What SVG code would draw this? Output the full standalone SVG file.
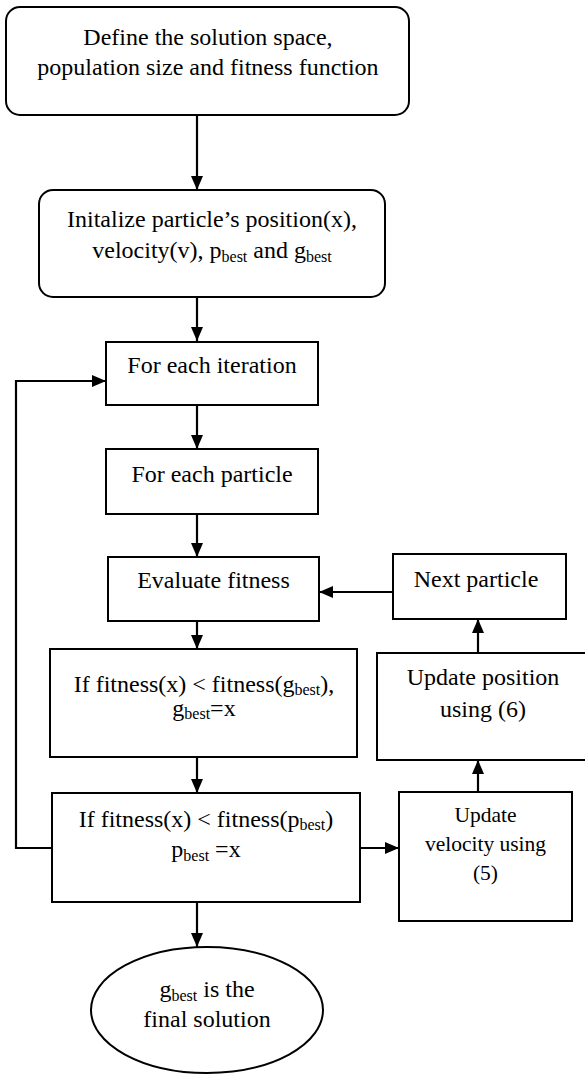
<svg xmlns="http://www.w3.org/2000/svg" width="585" height="1075" viewBox="0 0 585 1075" font-family="Liberation Serif, Times New Roman, DejaVu Serif, serif">
<style>
.b{fill:#fff;stroke:#000;stroke-width:2}
text{font-size:24px;fill:#000;text-anchor:middle}
.s{font-size:16px}
.v{font-size:21.5px}
.c{fill:none;stroke:#000;stroke-width:2.2}
</style>
<defs>
<marker id="ah" viewBox="0 0 14 12" refX="14" refY="6" markerWidth="14" markerHeight="12" markerUnits="userSpaceOnUse" orient="auto">
<path d="M0,0 L14,6 L0,12 z" fill="#000"/>
</marker>
</defs>
<rect width="585" height="1075" fill="#fff"/>
<g id="connectors">
<line class="c" x1="197" y1="115" x2="197" y2="190" marker-end="url(#ah)"/>
<line class="c" x1="197" y1="297" x2="197" y2="341" marker-end="url(#ah)"/>
<line class="c" x1="197" y1="405" x2="197" y2="449" marker-end="url(#ah)"/>
<line class="c" x1="197" y1="514" x2="197" y2="557" marker-end="url(#ah)"/>
<line class="c" x1="197" y1="621" x2="197" y2="649" marker-end="url(#ah)"/>
<line class="c" x1="197" y1="757" x2="197" y2="793" marker-end="url(#ah)"/>
<line class="c" x1="197" y1="902" x2="197" y2="947" marker-end="url(#ah)"/>
<line class="c" x1="360" y1="848" x2="399" y2="848" marker-end="url(#ah)"/>
<line class="c" x1="478" y1="792" x2="478" y2="760" marker-end="url(#ah)"/>
<line class="c" x1="478" y1="653" x2="478" y2="619" marker-end="url(#ah)"/>
<line class="c" x1="393" y1="592" x2="319" y2="592" marker-end="url(#ah)"/>
<polyline class="c" points="52,848 16,848 16,381 106,381" marker-end="url(#ah)"/>
</g>
<g id="n1">
<rect class="b" x="6" y="7" width="403" height="108" rx="14"/>
<text x="208" y="45">Define the solution space,</text>
<text x="208" y="75">population size and fitness function</text>
</g>
<g id="n2">
<rect class="b" x="39" y="190" width="346" height="107" rx="14"/>
<text x="212" y="227">Initalize particle’s position(x),</text>
<text x="212" y="258">velocity(v), p<tspan class="s" dy="4">best</tspan><tspan dy="-4"> and g</tspan><tspan class="s" dy="4">best</tspan></text>
</g>
<g id="n3">
<rect class="b" x="106" y="342" width="212" height="63"/>
<text x="212" y="373">For each iteration</text>
</g>
<g id="n4">
<rect class="b" x="106" y="449" width="212" height="65"/>
<text x="212" y="482">For each particle</text>
</g>
<g id="n5">
<rect class="b" x="108" y="557" width="211" height="64"/>
<text x="213.5" y="588">Evaluate fitness</text>
</g>
<g id="n6">
<rect class="b" x="393" y="554" width="173" height="65"/>
<text x="476" y="587">Next particle</text>
</g>
<g id="n7">
<rect class="b" x="50" y="649" width="307" height="108"/>
<text x="204" y="692">If fitness(x) &lt; fitness(g<tspan class="s" dy="3">best</tspan><tspan dy="-3">),</tspan></text>
<text x="204" y="716">g<tspan class="s" dy="3">best</tspan><tspan dy="-3">=x</tspan></text>
</g>
<g id="n8">
<rect class="b" x="377" y="653" width="210" height="107"/>
<text x="483" y="685">Update position</text>
<text x="483" y="717">using (6)</text>
</g>
<g id="n9">
<rect class="b" x="52" y="793" width="308" height="109"/>
<text x="206" y="827">If fitness(x) &lt; fitness(p<tspan class="s" dy="3">best</tspan><tspan dy="-3">)</tspan></text>
<text x="206" y="857">p<tspan class="s" dy="4">best</tspan><tspan dy="-4"> =x</tspan></text>
</g>
<g id="n10">
<rect class="b" x="399" y="792" width="173" height="129"/>
<text class="v" x="485.5" y="822">Update</text>
<text class="v" x="485.5" y="851">velocity using</text>
<text class="v" x="485.5" y="880">(5)</text>
</g>
<g id="n11">
<ellipse class="b" cx="207" cy="1010" rx="116" ry="63"/>
<text x="207" y="997">g<tspan class="s" dy="4">best</tspan><tspan dy="-4"> is the</tspan></text>
<text x="207" y="1027">final solution</text>
</g>
</svg>
